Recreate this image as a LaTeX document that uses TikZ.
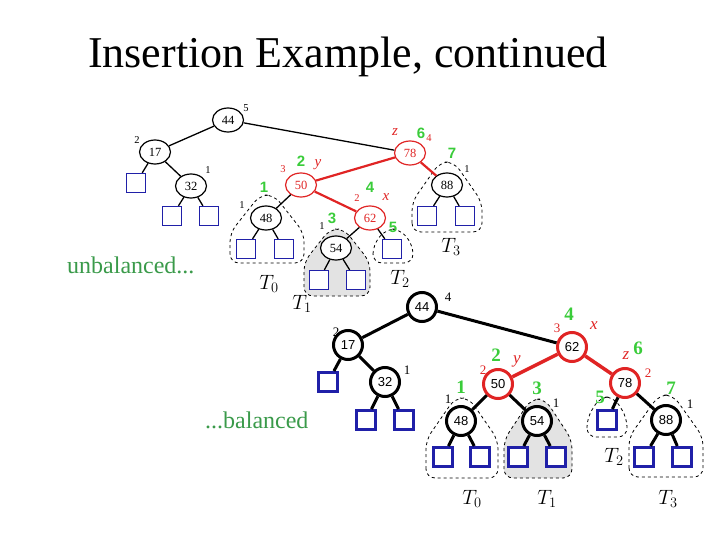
\documentclass[tikz,border=0pt]{standalone}
\usepackage{fontspec}
\setmainfont{Liberation Serif}
\newfontfamily\sansf{Liberation Sans}
\usetikzlibrary{shapes.geometric}
\definecolor{rd}{HTML}{E02424}
\definecolor{gr}{HTML}{3ACC3A}
\definecolor{bl}{HTML}{2020A8}
\definecolor{txg}{HTML}{3A9A4A}
\tikzset{
  tnode/.style={ellipse,draw=black,fill=white,line width=1.2pt,minimum width=31pt,minimum height=24pt,inner sep=0pt,font=\fontsize{12.5}{13}\selectfont},
  tred/.style={tnode,draw=rd,text=rd},
  tleaf/.style={rectangle,draw=bl,fill=white,line width=1.3pt,minimum size=19pt,inner sep=0pt},
  bnode/.style={circle,draw=black,fill=white,line width=3pt,minimum size=29pt,inner sep=0pt,font=\sansf\fontsize{13}{14}\selectfont},
  bred/.style={bnode,draw=rd},
  bleaf/.style={rectangle,draw=bl,fill=white,line width=3pt,minimum size=19pt,inner sep=0pt},
  tedge/.style={draw=black,line width=1.3pt},
  tredge/.style={draw=rd,line width=2.2pt},
  bedge/.style={draw=black,line width=3pt},
  bredge/.style={draw=rd,line width=3.5pt},
  small/.style={inner sep=0pt,font=\fontsize{10.5}{11}\selectfont},
  bsmall/.style={inner sep=0pt,font=\fontsize{13}{14}\selectfont},
  rsm/.style={small,text=rd},
  brsm/.style={bsmall,text=rd},
  rit/.style={inner sep=0pt,text=rd,font=\itshape\fontsize{15}{16}\selectfont},
  brit/.style={inner sep=0pt,text=rd,font=\itshape\fontsize{17}{18}\selectfont},
  gb/.style={inner sep=0pt,text=gr,font=\sansf\bfseries\fontsize{15}{16}\selectfont},
  bgb/.style={inner sep=0pt,text=gr,font=\bfseries\fontsize{19}{20}\selectfont},
  tlab/.style={inner sep=0pt,font=\fontsize{20}{22}\selectfont},
  region/.style={draw=black,dashed,line width=0.8pt,rounded corners=9pt},
}
\newcommand{\regionpath}[6]{% style, cx, top, halfwidth, mid, bottom
  \path[#1] (#2-#4,#6) -- (#2-#4,#5) -- (#2-7,#3) -- (#2+7,#3) -- (#2+#4,#5) -- (#2+#4,#6) -- cycle;}
\begin{document}
\begin{tikzpicture}[x=1pt,y=-1pt]
\useasboundingbox (0,0) rectangle (720,540);
\node[anchor=base west,inner sep=0pt,font=\fontsize{44}{50}\selectfont] (title) at (88,68) {Insertion Example, continued};
\node[anchor=base west,inner sep=0pt,text=txg,font=\fontsize{24}{26}\selectfont] (unb) at (67,273) {unbalanced...};
\node[anchor=base west,inner sep=0pt,text=txg,font=\fontsize{24}{26}\selectfont] (bal) at (205,428) {...balanced};

% ---------- top tree regions ----------
\regionpath{region}{267}{195}{37}{233}{263}
\regionpath{region,fill=gray!22}{337}{229}{33}{262}{296}
\regionpath{region}{393}{229}{20}{245}{263}
\regionpath{region}{447}{162}{35}{202}{232}

% ---------- top tree nodes ----------
\node[tnode] (t44) at (228,120) {44};
\node[tnode] (t17) at (155,152) {17};
\node[tnode] (t32) at (191,186) {32};
\node[tleaf] (tl1) at (136,183) {};
\node[tleaf] (tl2) at (172,216) {};
\node[tleaf] (tl3) at (209,216) {};
\node[tred] (t78) at (410,153) {78};
\node[tnode] (t88) at (447,185) {88};
\node[tleaf] (tl4) at (427,216) {};
\node[tleaf] (tl5) at (465,216) {};
\node[tred] (t50) at (301,185) {50};
\node[tnode] (t48) at (266,218) {48};
\node[tleaf] (tl6) at (246,249) {};
\node[tleaf] (tl7) at (284,249) {};
\node[tred] (t62) at (370,218) {62};
\node[tnode] (t54) at (336,248) {54};
\node[tleaf] (tl8) at (319,280) {};
\node[tleaf] (tl9) at (356,280) {};
\node[tleaf] (tl10) at (392,249) {};

\draw[tedge] (t44) -- (t17);
\draw[tedge] (t44) -- (t78);
\draw[tedge] (t17) -- (tl1);
\draw[tedge] (t17) -- (t32);
\draw[tedge] (t32) -- (tl2);
\draw[tedge] (t32) -- (tl3);
\draw[tredge] (t78) -- (t50);
\draw[tredge] (t50) -- (t62);
\draw[tredge] (t78) -- (t88);
\draw[tedge] (t88) -- (tl4);
\draw[tedge] (t88) -- (tl5);
\draw[tedge] (t50) -- (t48);
\draw[tedge] (t48) -- (tl6);
\draw[tedge] (t48) -- (tl7);
\draw[tedge] (t62) -- (t54);
\draw[tedge] (t62) -- (tl10);
\draw[tedge] (t54) -- (tl8);
\draw[tedge] (t54) -- (tl9);

% top labels
\node[small] (a1) at (246,108) {5};
\node[small] (a2) at (137,140) {2};
\node[small] (a3) at (208,170) {1};
\node[rit] (a4) at (395,132) {z};
\node[gb] (a5) at (421,133) {6};
\node[rsm] (a6) at (429,138) {4};
\node[gb] (a7) at (452,153) {7};
\node[small] (a8) at (467,169) {1};
\node[gb] (a9) at (301,161) {2};
\node[rsm] (a10) at (283,169) {3};
\node[rit] (a11) at (318,165) {y};
\node[gb] (a12) at (264,187) {1};
\node[small] (a13) at (242,205) {1};
\node[gb] (a14) at (370,187) {4};
\node[rsm] (a15) at (357,198) {2};
\node[rit] (a16) at (386,197) {x};
\node[gb] (a17) at (332,218) {3};
\node[small] (a18) at (322,226) {1};
\node[gb] (a19) at (393,227) {5};
\node[tlab] (T0a) at (269,284) {$T_0$};
\node[tlab] (T1a) at (302,304) {$T_1$};
\node[tlab] (T2a) at (400,279) {$T_2$};
\node[tlab] (T3a) at (451,247) {$T_3$};

% ---------- bottom tree regions ----------
\regionpath{region}{462}{398}{36}{440}{478}
\regionpath{region,fill=gray!22}{538}{399}{34}{440}{478}
\regionpath{region}{607}{397}{20}{418}{437}
\regionpath{region}{666}{395}{37}{437}{477}

% ---------- bottom tree nodes ----------
\node[bnode] (b44) at (422,307) {44};
\node[bnode] (b17) at (348,345) {17};
\node[bnode] (b32) at (385,382) {32};
\node[bleaf] (bl1) at (328,382) {};
\node[bleaf] (bl2) at (366,420) {};
\node[bleaf] (bl3) at (404,420) {};
\node[bred] (b62) at (572,347) {62};
\node[bred] (b50) at (498,384) {50};
\node[bnode] (b48) at (461,421) {48};
\node[bleaf] (bl4) at (443,457) {};
\node[bleaf] (bl5) at (480,457) {};
\node[bnode] (b54) at (537,421) {54};
\node[bleaf] (bl6) at (518,457) {};
\node[bleaf] (bl7) at (556,457) {};
\node[bred] (b78) at (625,383) {78};
\node[bleaf] (bl8) at (607,420) {};
\node[bnode] (b88) at (666,420) {88};
\node[bleaf] (bl9) at (644,457) {};
\node[bleaf] (bl10) at (682,457) {};

\draw[bedge] (b44) -- (b17);
\draw[bedge] (b44) -- (b62);
\draw[bedge] (b17) -- (bl1);
\draw[bedge] (b17) -- (b32);
\draw[bedge] (b32) -- (bl2);
\draw[bedge] (b32) -- (bl3);
\draw[bredge] (b62) -- (b50);
\draw[bredge] (b62) -- (b78);
\draw[bedge] (b50) -- (b48);
\draw[bedge] (b50) -- (b54);
\draw[bedge] (b48) -- (bl4);
\draw[bedge] (b48) -- (bl5);
\draw[bedge] (b54) -- (bl6);
\draw[bedge] (b54) -- (bl7);
\draw[bedge] (b78) -- (bl8);
\draw[bedge] (b78) -- (b88);
\draw[bedge] (b88) -- (bl9);
\draw[bedge] (b88) -- (bl10);

% bottom labels
\node[bsmall] (c1) at (448,297) {4};
\node[bsmall] (c2) at (336,332) {2};
\node[bsmall] (c3) at (407,370) {1};
\node[bgb] (c4) at (569,314) {4};
\node[brsm] (c5) at (557,328) {3};
\node[brit] (c6) at (594,326) {x};
\node[bgb] (c7) at (496,355) {2};
\node[brit] (c8) at (517,361) {y};
\node[brsm] (c9) at (483,370) {2};
\node[bgb] (c10) at (461,387) {1};
\node[bsmall] (c11) at (448,399) {1};
\node[bgb] (c12) at (537,388) {3};
\node[bsmall] (c13) at (556,403) {1};
\node[brit] (c14) at (626,356) {z};
\node[bgb] (c15) at (638,348) {6};
\node[brsm] (c16) at (648,373) {2};
\node[bgb] (c17) at (600,397) {5};
\node[bgb] (c18) at (671,388) {7};
\node[bsmall] (c19) at (690,404) {1};
\node[tlab] (T0b) at (472,499) {$T_0$};
\node[tlab] (T1b) at (547,499) {$T_1$};
\node[tlab] (T2b) at (614,457) {$T_2$};
\node[tlab] (T3b) at (668,499) {$T_3$};
\end{tikzpicture}
\end{document}
